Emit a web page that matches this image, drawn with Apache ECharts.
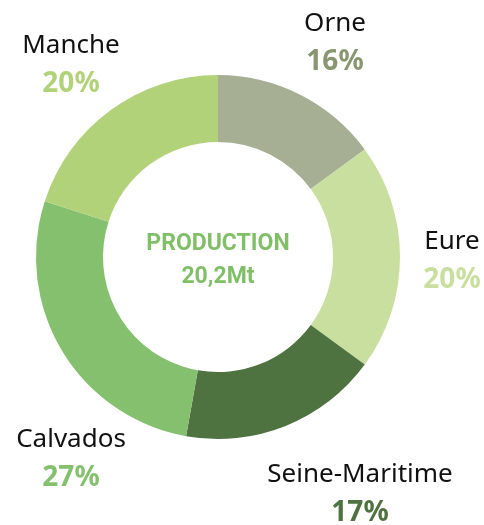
<!DOCTYPE html>
<html>
<head>
<meta charset="utf-8">
<script src="https://cdn.jsdelivr.net/npm/echarts@6/dist/echarts.min.js"></script>
<style>
  html, body { margin: 0; padding: 0; background: #fff; }
  #chart { width: 484px; height: 525px; }
</style>
</head>
<body>
<div id="chart"></div>
<script>
  const departements = ['Orne', 'Eure', 'Seine-Maritime', 'Calvados', 'Manche'];
  const parts = [14.9, 20.1, 17.7, 27.1, 20.0];
  const pourcentages = ['16%', '20%', '17%', '27%', '20%'];
  const couleurs = ['#a6ae94', '#c9df9f', '#4e7340', '#84c06e', '#b2d27a'];
  const couleursPct = ['#8a9670', '#c9df9f', '#4e7340', '#84c06e', '#b2d27a'];
  const centreTitre = 'PRODUCTION';
  const centreValeur = '20,2Mt';

  // position des étiquettes autour de l'anneau
  const labelAt = [[335, 43], [452, 261], [360, 494], [71, 459], [71, 65]];

  const chart = echarts.init(document.getElementById('chart'));

  const rich = { n: { fontSize: 26, color: '#111', fontFamily: 'Noto Sans', lineHeight: 38, align: 'center' } };
  couleursPct.forEach((c, i) => {
    rich['p' + i] = { fontSize: 28, fontWeight: 'bold', color: c, fontFamily: 'Noto Sans', lineHeight: 38, align: 'center' };
  });

  const centreFont = 'bold 23px Roboto, sans-serif';

  chart.setOption({
    animation: false,
    graphic: [
      {
        type: 'text', x: 218, y: 244,
        style: { text: centreTitre, fill: '#80bf68', font: centreFont, textAlign: 'center', textVerticalAlign: 'middle' }
      },
      {
        type: 'text', x: 218, y: 277,
        style: { text: centreValeur, fill: '#80bf68', font: centreFont, textAlign: 'center', textVerticalAlign: 'middle' }
      }
    ],
    series: [{
      type: 'pie',
      center: [218, 257],
      radius: [115, 182],
      startAngle: 90,
      clockwise: true,
      itemStyle: { borderWidth: 0 },
      emphasis: { disabled: true },
      label: {
        show: true,
        position: 'outside',
        alignTo: 'none',
        overflow: 'none',
        formatter: p => '{n|' + p.name + '}\n{p' + p.dataIndex + '|' + pourcentages[p.dataIndex] + '}',
        rich: rich
      },
      labelLine: { show: false },
      labelLayout: p => ({
        x: labelAt[p.dataIndex][0],
        y: labelAt[p.dataIndex][1],
        align: 'center',
        verticalAlign: 'middle'
      }),
      data: departements.map((d, i) => ({ name: d, value: parts[i], itemStyle: { color: couleurs[i] } }))
    }]
  });
</script>
</body>
</html>
